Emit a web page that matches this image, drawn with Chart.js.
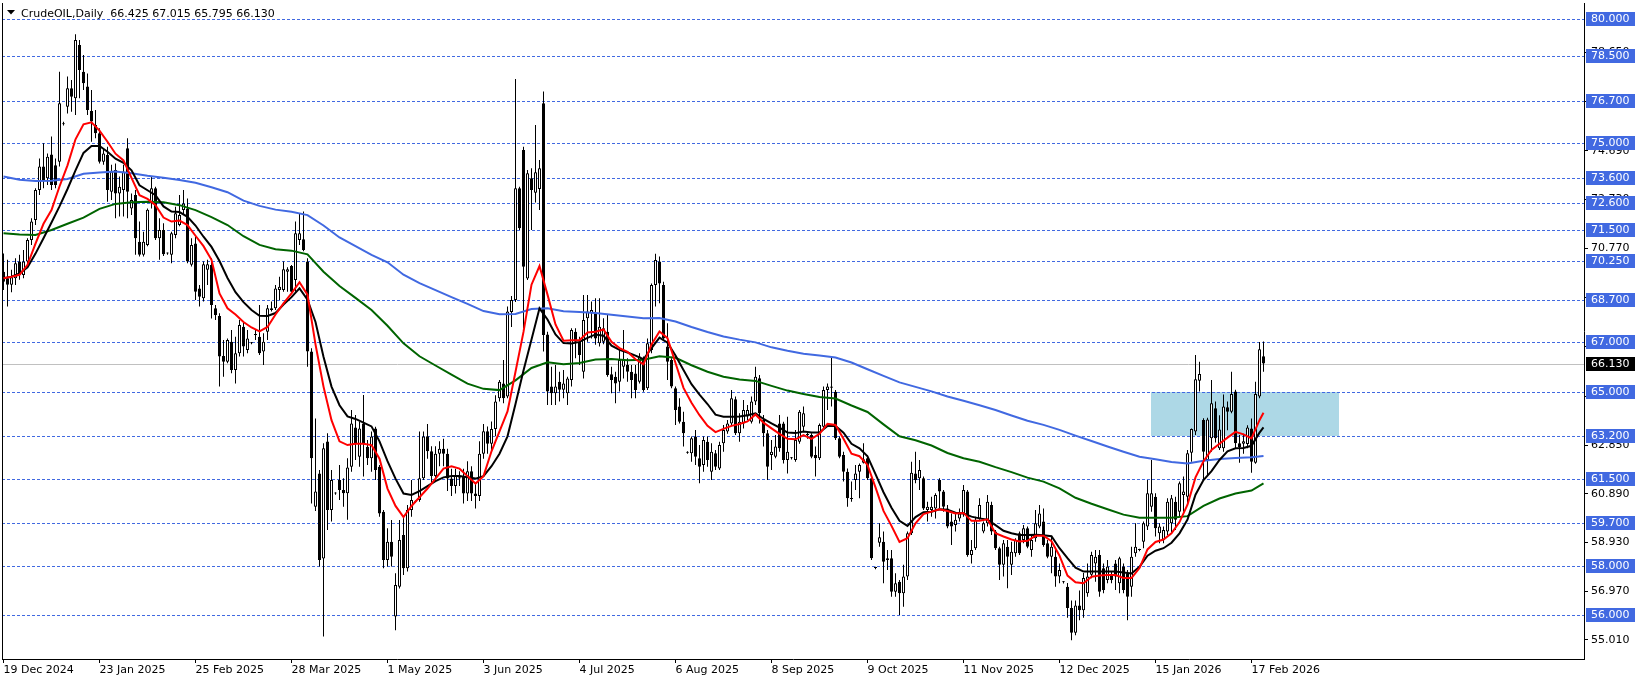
<!DOCTYPE html>
<html><head><meta charset="utf-8">
<script src="https://cdn.jsdelivr.net/npm/chart.js@4"></script>
<style>html,body{margin:0;padding:0;background:#fff;overflow:hidden}canvas{display:block}</style>
</head><body>
<canvas id="c" width="1641" height="683"></canvas>
<script>
// ---- daily OHLC, bar 0 = 19 Dec 2024 ----
const OPEN = [
69.82,69.56,69.30,69.56,70.23,69.69,70.23,71.10,71.90,73.11,
74.05,73.58,74.54,74.10,74.25,75.77,76.46,77.20,76.80,78.94,
77.87,77.27,76.29,75.72,75.39,74.25,74.52,73.04,73.91,72.97,
73.11,74.79,72.37,72.91,71.03,70.50,70.90,72.57,73.18,71.17,
71.50,70.55,70.50,71.30,71.70,72.30,72.37,70.10,70.96,69.15,
68.75,69.90,70.09,68.35,68.04,66.43,66.20,67.01,65.87,66.54,
67.61,66.67,66.94,67.28,67.21,66.61,67.41,68.28,68.35,69.09,
69.09,69.82,70.05,69.49,71.10,71.13,70.23,66.61,60.37,61.71,
58.29,62.99,60.24,60.90,61.44,61.04,60.91,61.98,63.56,62.38,
63.72,62.78,62.32,63.52,61.98,60.17,58.23,58.96,55.95,57.15,
59.23,57.89,60.24,60.57,60.64,61.51,63.20,62.60,61.60,62.50,
62.70,62.50,61.50,61.20,61.55,61.60,60.90,61.80,60.90,60.80,
62.50,63.40,62.90,63.50,64.73,65.33,64.80,68.20,68.68,73.18,
74.72,69.55,73.58,73.00,73.15,76.60,67.30,65.20,64.93,65.40,
65.07,64.93,65.47,67.41,67.01,65.80,67.95,68.15,68.15,66.94,
67.01,67.41,65.70,65.60,65.40,66.00,66.07,65.80,65.73,65.40,
66.34,65.13,66.67,69.29,70.23,69.29,66.81,66.27,65.13,64.40,
63.79,62.55,62.52,63.19,62.32,62.05,62.98,61.78,62.52,61.91,
62.92,63.39,63.72,64.69,63.32,63.72,64.00,63.79,64.60,65.54,
63.86,63.32,62.45,62.38,63.72,63.72,62.25,62.32,62.25,62.98,
63.59,63.28,63.25,62.45,62.32,63.59,65.06,65.20,64.99,63.12,
62.45,61.78,60.70,61.44,61.78,62.14,62.32,61.51,57.90,58.92,
58.96,58.23,58.30,56.95,57.35,56.89,57.56,59.30,61.71,61.51,
61.51,60.24,60.24,60.30,61.44,60.98,60.30,59.77,59.63,59.90,
60.10,60.98,58.43,58.70,59.90,59.37,59.70,60.44,59.37,58.70,
58.03,58.76,58.03,58.50,59.30,59.03,59.50,58.63,59.10,59.57,
59.77,58.90,58.36,58.36,57.56,57.33,57.15,56.30,55.30,56.40,
56.20,56.89,57.63,58.09,58.43,57.89,57.42,57.62,58.09,57.29,
57.96,57.69,57.15,58.50,58.63,58.96,59.57,60.37,60.77,59.30,
59.03,59.37,59.70,60.57,60.17,60.84,60.77,62.54,63.39,65.44,
63.86,62.25,63.12,64.33,62.72,62.72,64.37,64.19,65.00,62.92,
62.90,62.89,63.52,62.14,64.80,66.425];
const HIGH = [
70.56,70.30,69.90,70.36,70.50,70.70,71.17,71.97,73.18,74.38,
74.99,74.58,75.26,74.38,77.87,75.85,77.67,77.53,79.37,79.14,
78.54,77.80,77.13,76.33,75.59,74.79,74.85,74.12,74.18,73.65,
74.12,75.19,72.97,73.11,71.84,71.43,72.37,73.65,73.24,71.97,
71.77,70.60,71.43,72.44,72.91,73.11,72.77,71.17,71.23,69.29,
70.23,70.30,70.36,68.48,68.15,67.08,67.14,67.48,67.21,67.88,
67.81,67.48,67.00,67.48,68.48,67.35,68.48,68.62,69.29,69.62,
70.23,70.00,70.09,71.84,72.17,72.24,70.36,66.74,63.92,61.85,
62.92,63.32,61.85,60.95,62.05,61.51,62.32,64.26,64.06,63.79,
64.86,63.05,63.39,63.59,62.05,60.24,59.50,59.83,57.69,59.83,
59.97,60.44,61.44,60.62,63.39,63.39,63.70,62.80,62.80,63.00,
63.10,62.70,61.90,61.90,61.80,61.90,62.20,62.00,61.30,63.00,
63.70,63.60,63.80,64.85,65.47,66.27,68.42,68.85,77.57,73.24,
74.85,73.91,73.98,75.72,74.32,77.07,67.41,66.00,66.07,65.80,
65.87,65.60,67.55,67.55,67.21,68.89,68.89,68.62,68.75,68.75,
67.95,68.08,66.00,65.80,66.74,67.48,66.34,66.07,66.07,66.54,
66.41,67.14,69.35,70.54,70.43,69.42,67.75,66.34,65.20,64.73,
64.19,62.60,63.19,63.46,62.85,63.19,63.19,62.92,62.65,62.98,
63.66,63.86,65.06,64.80,64.13,64.66,64.46,64.80,66.00,65.67,
64.06,63.46,63.05,63.25,64.06,63.79,63.99,62.37,63.46,64.26,
64.40,63.40,63.32,62.79,63.72,65.20,65.33,66.38,65.06,63.19,
62.58,61.91,61.38,62.05,62.11,62.92,62.45,61.58,57.95,59.70,
59.37,58.63,58.63,57.69,57.42,58.03,59.37,62.18,62.58,62.25,
61.58,60.57,60.77,60.91,61.51,61.04,60.44,60.10,60.10,60.30,
61.24,61.04,59.03,59.97,60.71,59.77,60.84,60.57,59.43,58.76,
59.03,59.03,58.96,59.10,59.37,59.63,59.57,59.23,60.24,60.44,
60.30,59.03,59.17,58.63,58.09,57.38,57.30,56.60,56.60,57.00,
57.70,58.09,58.56,58.63,58.63,58.09,58.23,57.76,58.23,58.36,
58.09,57.82,58.76,59.70,58.68,59.77,61.44,62.25,60.91,59.70,
59.57,60.71,60.84,60.77,61.38,61.58,62.65,63.52,66.47,66.20,
63.93,63.95,65.47,64.60,64.05,64.88,64.60,65.80,65.07,63.25,
63.30,63.65,63.92,65.40,67.00,67.015];
const LOW = [
69.09,68.42,69.00,69.29,69.50,69.56,70.09,70.90,71.70,72.91,
73.18,73.31,73.11,73.18,74.05,75.70,76.19,76.26,76.13,76.80,
77.13,76.13,75.05,75.19,74.18,74.12,72.64,72.71,71.97,72.04,
72.04,71.97,72.10,70.50,70.43,70.43,70.85,72.37,71.10,70.30,
70.45,70.50,70.16,71.17,71.65,72.10,70.16,70.03,68.68,68.42,
68.62,69.29,67.94,67.88,65.20,65.60,66.14,65.74,65.33,66.41,
66.41,66.54,66.90,67.08,66.47,66.07,67.08,68.22,68.28,68.68,
69.02,69.02,68.95,69.02,70.90,70.65,66.00,60.50,60.20,57.96,
55.15,59.43,59.77,60.85,60.64,60.37,59.84,61.78,62.25,61.98,
61.58,62.05,61.78,61.44,59.97,57.89,57.96,57.96,55.40,57.08,
57.62,57.76,59.97,60.52,60.57,61.44,62.30,61.30,61.40,62.00,
62.00,61.00,60.80,60.90,61.20,60.50,60.60,60.60,60.30,60.60,
62.30,62.50,62.60,63.20,64.60,64.53,64.73,67.60,68.60,71.50,
67.55,69.49,71.50,72.61,72.30,66.61,64.46,64.46,64.46,64.60,
64.73,64.46,65.20,66.34,66.07,65.53,67.01,67.14,66.88,66.81,
66.90,65.60,64.93,64.53,65.00,65.53,65.40,64.73,64.73,65.33,
64.99,65.06,66.54,68.42,68.55,67.08,65.47,65.13,63.66,63.72,
62.79,62.50,62.18,62.05,61.31,61.78,61.98,61.44,61.85,61.85,
62.58,63.30,63.66,63.25,62.98,63.52,63.86,63.72,64.46,63.72,
62.79,61.44,61.85,62.32,62.58,62.11,61.71,62.27,62.18,62.90,
63.39,63.10,62.32,61.58,62.25,63.52,64.26,64.40,63.05,62.32,
61.38,60.37,60.57,61.04,60.71,62.11,61.44,58.23,57.85,58.76,
57.29,57.82,56.75,56.75,56.01,56.35,57.42,59.23,61.31,61.04,
60.24,59.77,59.97,59.90,60.30,60.17,59.50,58.83,59.37,59.77,
59.97,58.36,58.09,58.63,59.84,59.30,59.57,59.23,58.63,57.42,
57.56,57.09,57.62,58.36,58.43,58.90,58.70,58.36,58.96,59.50,
58.76,58.30,57.69,57.15,57.29,57.28,55.90,55.00,55.20,55.80,
55.90,56.75,57.49,57.35,56.75,56.89,57.29,57.29,57.02,56.89,
56.89,55.80,56.75,58.36,58.58,58.70,59.43,60.17,59.17,58.90,
58.90,59.23,59.30,59.43,59.97,60.17,60.51,62.18,63.25,65.00,
61.44,61.60,62.58,62.95,62.65,62.58,63.45,64.13,62.72,62.14,
62.50,62.72,61.74,62.10,64.73,65.795];
const CLOSE = [
69.42,69.30,69.60,70.16,69.69,70.23,71.10,71.84,73.11,74.05,
73.51,74.45,73.31,73.31,76.60,75.75,77.20,76.86,79.14,77.94,
77.40,76.33,75.86,75.39,74.25,74.58,73.11,73.85,72.97,73.24,
73.85,73.04,72.71,71.17,70.50,71.03,72.31,73.18,71.17,71.50,
70.52,70.56,71.37,72.17,72.10,72.57,70.23,70.90,69.02,68.82,
70.12,70.12,68.48,68.08,66.41,66.20,67.08,65.87,66.54,67.68,
66.81,67.14,66.95,67.30,66.54,67.01,68.35,68.35,69.15,69.22,
69.92,69.92,69.02,71.37,71.37,70.70,66.61,62.32,60.98,58.23,
62.72,60.24,61.44,60.91,61.04,60.91,61.95,63.72,62.92,63.52,
62.92,62.32,63.19,61.85,60.10,58.23,58.96,58.36,57.22,59.03,
57.89,60.24,60.64,60.58,61.51,63.19,62.60,61.60,62.50,62.70,
62.50,61.50,61.20,61.60,61.50,60.90,61.80,60.90,60.80,62.50,
63.40,62.90,63.50,64.60,65.40,64.73,68.22,68.68,73.18,71.57,
70.02,73.78,73.11,73.82,73.98,67.28,65.00,64.93,65.20,65.07,
65.33,65.53,67.48,67.01,66.47,67.88,68.22,68.28,67.14,67.61,
67.55,65.67,65.47,65.33,66.27,66.27,65.80,65.47,65.06,66.41,
65.06,66.94,69.29,70.29,69.35,67.14,66.20,65.20,64.26,63.79,
63.32,62.54,63.12,62.38,61.98,63.05,62.25,62.58,61.98,62.85,
63.46,63.72,64.73,63.32,63.79,64.26,64.26,64.60,65.60,64.13,
63.32,61.98,62.58,62.79,62.72,62.25,62.58,62.33,63.05,64.19,
64.13,63.25,62.38,62.32,63.66,65.06,65.20,65.15,63.12,62.38,
61.78,60.71,60.68,61.71,62.05,62.28,61.51,58.30,57.90,59.14,
58.16,58.30,56.95,57.29,56.89,57.56,59.30,61.74,61.44,61.85,
60.30,60.37,60.37,60.84,60.98,60.37,59.57,59.57,59.84,60.10,
61.04,58.43,58.63,59.84,60.44,59.70,60.57,59.37,58.70,58.03,
58.90,58.36,58.56,59.03,58.50,59.50,58.76,59.03,59.70,60.10,
58.83,58.36,58.76,57.56,57.82,57.33,56.30,55.30,56.40,56.20,
57.50,57.56,58.43,58.36,56.95,57.02,57.96,57.42,57.56,58.30,
57.02,56.75,58.36,58.76,58.63,59.70,60.91,60.91,59.50,59.57,
59.43,60.57,60.71,59.84,61.31,60.98,62.52,63.50,65.50,65.71,
62.58,63.88,64.53,63.12,63.48,64.40,64.19,64.90,62.92,62.76,
63.00,63.56,62.18,64.90,66.70,66.130];

// ---- moving averages: [bar, value] ----
const RED_MA = [[0,69.56],[2,69.62],[4,69.70],[6,70.10],[8,70.95],[10,71.75],[12,72.30],[14,73.25],[16,74.10],[18,75.15],[20,75.75],[22,75.83],[24,75.50],[26,75.05],[28,74.57],[30,74.30],[32,73.60],[34,72.90],[36,72.75],[38,72.50],[40,72.00],[42,71.84],[44,71.88],[46,71.70],[48,71.27],[50,70.85],[52,70.30],[54,68.95],[56,68.35],[58,68.10],[60,67.80],[62,67.58],[64,67.42],[66,67.60],[68,68.10],[70,68.55],[72,68.95],[74,69.40],[76,68.90],[78,66.90],[80,65.20],[82,63.85],[84,63.00],[86,62.85],[88,62.90],[90,62.90],[92,62.85],[94,62.30],[96,61.10],[98,60.40],[100,59.95],[102,60.40],[104,60.75],[106,61.10],[108,61.50],[110,61.90],[112,62.00],[114,61.90],[116,61.60],[118,61.30],[120,61.60],[122,62.60],[124,63.40],[126,64.20],[128,65.80],[130,67.40],[132,69.30],[134,70.05],[136,68.90],[138,67.70],[140,67.05],[142,67.07],[144,67.07],[146,67.38],[148,67.41],[150,67.50],[152,67.00],[154,66.75],[156,66.60],[158,66.30],[160,66.10],[162,66.90],[164,67.42],[166,67.15],[168,66.15],[170,65.15],[172,64.55],[174,64.05],[176,63.62],[178,63.37],[180,63.50],[182,63.62],[184,63.70],[186,63.80],[188,64.08],[190,63.75],[192,63.52],[194,63.30],[196,63.10],[198,63.08],[200,63.25],[202,63.10],[204,63.30],[206,63.70],[208,63.66],[210,63.10],[212,62.50],[214,62.40],[216,62.05],[218,61.15],[220,60.20],[222,59.60],[224,58.95],[226,59.10],[228,59.70],[230,60.07],[232,60.17],[234,60.27],[236,60.20],[238,60.10],[240,60.12],[242,59.80],[244,59.80],[246,59.86],[248,59.30],[250,59.17],[252,59.05],[254,58.97],[256,59.00],[258,59.20],[260,59.20],[262,58.98],[264,58.40],[266,57.60],[268,57.33],[270,57.29],[272,57.55],[274,57.60],[276,57.62],[278,57.62],[280,57.50],[282,57.50],[284,57.90],[286,58.65],[288,58.95],[290,59.05],[292,59.30],[294,59.75],[296,60.45],[298,61.55],[300,62.20],[302,62.65],[304,62.90],[306,63.15],[308,63.38],[310,63.28],[312,63.12],[314,63.85],[315,64.15]];
const BLACK_MA = [[0,69.56],[2,69.62],[4,69.75],[6,70.00],[8,70.55],[10,71.17],[12,71.80],[14,72.45],[16,73.15],[18,73.90],[20,74.60],[22,74.88],[24,74.88],[26,74.65],[28,74.37],[30,74.20],[32,73.90],[34,73.30],[36,73.10],[38,72.90],[40,72.45],[42,72.24],[44,72.22],[46,72.03],[48,71.68],[50,71.23],[52,70.82],[54,70.25],[56,69.57],[58,69.00],[60,68.60],[62,68.28],[64,68.05],[66,68.04],[68,68.16],[70,68.50],[72,68.80],[74,69.15],[76,68.70],[78,67.80],[80,66.40],[82,65.20],[84,64.45],[86,64.00],[88,63.90],[90,63.75],[92,63.60],[94,63.00],[96,62.20],[98,61.50],[100,60.90],[102,60.84],[104,61.00],[106,61.20],[108,61.40],[110,61.55],[112,61.60],[114,61.60],[116,61.55],[118,61.50],[120,61.60],[122,62.00],[124,62.50],[126,63.20],[128,64.50],[130,65.85],[132,67.10],[134,68.35],[136,67.90],[138,67.30],[140,66.95],[142,66.93],[144,67.00],[146,67.16],[148,67.30],[150,67.25],[152,66.85],[154,66.68],[156,66.57],[158,66.45],[160,66.30],[162,66.75],[164,67.17],[166,66.97],[168,66.45],[170,65.87],[172,65.30],[174,64.88],[176,64.50],[178,64.07],[180,63.99],[182,63.99],[184,64.00],[186,64.05],[188,64.13],[190,63.90],[192,63.72],[194,63.55],[196,63.35],[198,63.33],[200,63.39],[202,63.35],[204,63.35],[206,63.62],[208,63.62],[210,63.35],[212,62.90],[214,62.72],[216,62.40],[218,61.68],[220,60.95],[222,60.33],[224,59.80],[226,59.60],[228,59.95],[230,60.15],[232,60.17],[234,60.27],[236,60.25],[238,60.13],[240,60.10],[242,59.97],[244,59.90],[246,59.85],[248,59.63],[250,59.40],[252,59.30],[254,59.23],[256,59.23],[258,59.24],[260,59.22],[262,59.18],[264,58.70],[266,58.30],[268,57.92],[270,57.76],[272,57.76],[274,57.76],[276,57.76],[278,57.76],[280,57.72],[282,57.68],[284,57.95],[286,58.40],[288,58.60],[290,58.70],[292,58.92],[294,59.30],[296,59.85],[298,60.85],[300,61.44],[302,61.80],[304,62.25],[306,62.60],[308,62.72],[310,62.73],[312,62.82],[314,63.35],[315,63.56]];
const GREEN_MA = [[0,71.37],[4,71.32],[8,71.30],[12,71.50],[16,71.75],[20,72.00],[24,72.35],[28,72.55],[32,72.62],[36,72.64],[40,72.62],[44,72.50],[48,72.30],[52,72.02],[56,71.70],[60,71.25],[64,70.90],[68,70.73],[72,70.67],[76,70.52],[80,69.82],[84,69.25],[88,68.77],[92,68.28],[96,67.65],[100,66.94],[104,66.42],[108,66.05],[112,65.68],[116,65.32],[120,65.11],[124,65.06],[128,65.45],[132,65.95],[136,66.18],[140,66.10],[144,66.15],[148,66.29],[152,66.31],[156,66.26],[160,66.28],[164,66.42],[168,66.36],[172,66.06],[176,65.80],[180,65.60],[184,65.49],[188,65.43],[192,65.23],[196,65.04],[200,64.90],[204,64.78],[208,64.72],[212,64.44],[216,64.18],[220,63.68],[224,63.20],[228,63.04],[232,62.83],[236,62.53],[240,62.32],[244,62.18],[248,61.96],[252,61.76],[256,61.54],[260,61.38],[264,61.11],[268,60.73],[272,60.49],[276,60.27],[280,60.05],[284,59.93],[288,59.93],[292,59.93],[296,59.99],[300,60.40],[304,60.70],[308,60.90],[312,61.02],[315,61.31]];
const BLUE_MA = [[0,73.65],[4,73.52],[8,73.47],[12,73.48],[16,73.55],[20,73.76],[24,73.81],[28,73.85],[32,73.78],[36,73.68],[40,73.60],[44,73.51],[48,73.40],[52,73.22],[56,73.02],[60,72.68],[64,72.47],[68,72.32],[72,72.23],[76,72.10],[80,71.68],[84,71.20],[88,70.85],[92,70.50],[96,70.20],[100,69.70],[104,69.36],[108,69.08],[112,68.80],[116,68.53],[120,68.24],[124,68.11],[128,68.12],[132,68.32],[136,68.35],[140,68.23],[144,68.20],[148,68.16],[152,68.09],[156,68.02],[160,67.95],[164,67.96],[168,67.82],[172,67.60],[176,67.40],[180,67.22],[184,67.09],[188,66.98],[192,66.78],[196,66.64],[200,66.52],[204,66.45],[208,66.37],[212,66.17],[216,65.90],[220,65.63],[224,65.37],[228,65.19],[232,65.01],[236,64.80],[240,64.63],[244,64.45],[248,64.26],[252,64.04],[256,63.83],[260,63.66],[264,63.46],[268,63.23],[272,63.01],[276,62.79],[280,62.58],[284,62.38],[288,62.28],[292,62.17],[296,62.11],[300,62.22],[304,62.29],[308,62.33],[312,62.36],[315,62.41]];

// ---- axis / annotation values ----
const DATE_BARS = [0,24,48,72,96,120,144,168,192,216,240,264,288,312];
const DATE_LABELS = ['19 Dec 2024','23 Jan 2025','25 Feb 2025','28 Mar 2025','1 May 2025','3 Jun 2025','4 Jul 2025','6 Aug 2025','8 Sep 2025','9 Oct 2025','11 Nov 2025','12 Dec 2025','15 Jan 2026','17 Feb 2026'];
const PRICE_TICKS = ['55.010','56.970','58.930','60.890','62.850','64.810','66.810','68.770','70.770','72.730','74.690','76.650','78.650'];
const LEVELS = [80.0,78.5,76.7,75.0,73.6,72.6,71.5,70.25,68.7,67.0,65.0,63.2,61.5,59.7,58.0,56.0];
const ZONE_X = [286.8, 333.8];
const ZONE_Y = [63.2, 65.0];
const HEADER = 'CrudeOIL,Daily  66.425 67.015 65.795 66.130';

Chart.defaults.font.family = '"DejaVu Sans", sans-serif';
Chart.defaults.font.size = 11;
Chart.defaults.color = '#000';

const wickData = OPEN.map((o,i)=>({x:i, y:[LOW[i], HIGH[i]]}));
const bodyData = OPEN.map((o,i)=>({x:i, y:[Math.min(o,CLOSE[i]), Math.max(o,CLOSE[i])]}));
const bodyColors = OPEN.map((o,i)=> CLOSE[i] >= o ? '#ffffff' : '#000000');
const toPts = arr => arr.map(p=>({x:p[0], y:p[1]}));

const overlay = {
  id:'overlay',
  beforeDatasetsDraw(chart){
    const {ctx, chartArea:a, scales:{x,y}} = chart;
    ctx.save();
    const x0 = Math.round(x.getPixelForValue(ZONE_X[0])), x1 = Math.round(x.getPixelForValue(ZONE_X[1]));
    const y0 = Math.round(y.getPixelForValue(ZONE_Y[1])), y1 = Math.round(y.getPixelForValue(ZONE_Y[0]));
    ctx.fillStyle = '#ADD8E6';
    ctx.fillRect(x0, y0, x1-x0, y1-y0);
    const last = CLOSE[CLOSE.length-1];
    const py = Math.round(y.getPixelForValue(last)) + 0.5;
    ctx.strokeStyle = '#C0C0C0'; ctx.lineWidth = 1;
    ctx.beginPath(); ctx.moveTo(a.left, py); ctx.lineTo(a.right, py); ctx.stroke();
    ctx.strokeStyle = '#4169E1'; ctx.setLineDash([3,2]);
    LEVELS.forEach(v=>{
      const ly = Math.round(y.getPixelForValue(v)) + 0.5;
      ctx.beginPath(); ctx.moveTo(a.left, ly); ctx.lineTo(a.right, ly); ctx.stroke();
    });
    ctx.restore();
  },
  afterDraw(chart){
    const {ctx, chartArea:a, scales:{y}} = chart;
    ctx.save();
    ctx.fillStyle = '#000';
    ctx.fillRect(a.left, a.top, 1, a.bottom - a.top);
    ctx.font = '11px "DejaVu Sans"';
    ctx.textBaseline = 'middle'; ctx.textAlign = 'left';
    const bx = a.right + 2;
    LEVELS.forEach(v=>{
      const ly = Math.round(y.getPixelForValue(v));
      ctx.fillStyle = '#4169E1';
      ctx.fillRect(bx, ly-7, 49, 14);
      ctx.fillStyle = '#fff';
      ctx.fillText(v.toFixed(3), bx+5, ly+0.5);
    });
    const last = CLOSE[CLOSE.length-1];
    const cy = Math.round(y.getPixelForValue(last));
    ctx.fillStyle = '#000';
    ctx.fillRect(bx, cy-7, 49, 14);
    ctx.fillStyle = '#fff';
    ctx.fillText(last.toFixed(3), bx+5, cy+0.5);
    ctx.fillStyle = '#000';
    ctx.beginPath(); ctx.moveTo(7,10); ctx.lineTo(15,10); ctx.lineTo(11,14.5); ctx.closePath(); ctx.fill();
    ctx.textBaseline = 'alphabetic';
    ctx.fillText(HEADER, 21, 17);
    ctx.restore();
  }
};

new Chart(document.getElementById('c'), {
  type:'bar',
  data:{ datasets:[
    {type:'line', label:'red', data:toPts(RED_MA), borderColor:'#FF0000', borderWidth:2, pointRadius:0, tension:0, order:1},
    {type:'line', label:'black', data:toPts(BLACK_MA), borderColor:'#000000', borderWidth:2, pointRadius:0, tension:0, order:2},
    {type:'line', label:'green', data:toPts(GREEN_MA), borderColor:'#006400', borderWidth:2, pointRadius:0, tension:0, order:3},
    {type:'line', label:'blue', data:toPts(BLUE_MA), borderColor:'#4169E1', borderWidth:2, pointRadius:0, tension:0, order:4},
    {type:'bar', label:'body', data:bodyData, backgroundColor:bodyColors, borderColor:'#000', borderWidth:1, borderSkipped:false, barThickness:3, grouped:false, inflateAmount:0, minBarLength:1, order:5},
    {type:'bar', label:'wick', data:wickData, backgroundColor:'#000', borderWidth:0, barThickness:1, grouped:false, inflateAmount:0, order:6}
  ]},
  options:{
    responsive:false, animation:false, devicePixelRatio:1, events:[],
    layout:{padding:{left:2, top:3, right:0, bottom:0}},
    plugins:{legend:{display:false}, tooltip:{enabled:false}},
    scales:{
      x:{ type:'linear', min:-0.375, max:395.125, offset:false,
          grid:{drawOnChartArea:false, drawTicks:true, tickLength:4, tickColor:'#000', offset:false},
          border:{display:true, color:'#000', width:1},
          afterBuildTicks:(s)=>{ s.ticks = DATE_BARS.map(v=>({value:v})); },
          afterFit:(s)=>{ s.height = 24; s.paddingLeft = 0; s.paddingRight = 0; },
          ticks:{ autoSkip:false, maxRotation:0, minRotation:0, align:'start', padding:1, color:'#000',
                  callback:(v)=>{ const k = DATE_BARS.indexOf(v); return k>=0 ? DATE_LABELS[k] : ''; } } },
      y:{ type:'linear', position:'right', min:54.2435, max:80.6315,
          grid:{drawOnChartArea:false, drawTicks:true, tickLength:4, tickColor:'#000'},
          border:{display:true, color:'#000', width:1},
          afterBuildTicks:(s)=>{ s.ticks = PRICE_TICKS.map(t=>({value:parseFloat(t)})); },
          afterFit:(s)=>{ s.width = 57; s.paddingTop = 0; s.paddingBottom = 0; },
          ticks:{ autoSkip:false, padding:3, color:'#000',
                  callback:(v)=>{ const t = PRICE_TICKS.find(s=>parseFloat(s)===v); return t || v.toFixed(3); } } }
    }
  },
  plugins:[overlay]
});
</script>
</body></html>
